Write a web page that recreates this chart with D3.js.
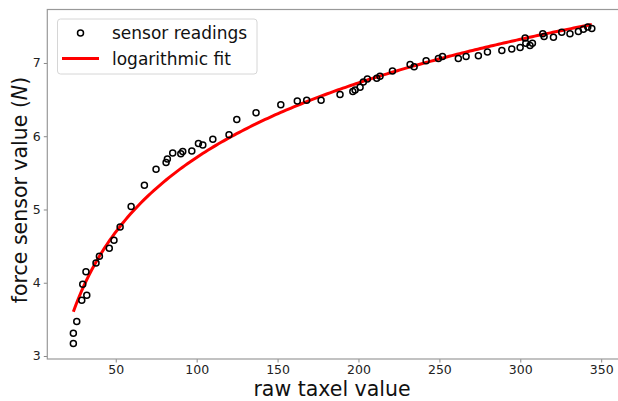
<!DOCTYPE html>
<html>
<head>
<meta charset="utf-8">
<script src="https://cdn.jsdelivr.net/npm/d3@7"></script>
<style>
  body { margin: 0; background: #fff; }
  svg { display: block; font-family: "DejaVu Sans", sans-serif; }
  .tick text { fill: #222; }
</style>
</head>
<body>
<svg width="618" height="401"></svg>
<script>
// sensor data
const taxel = [
  23.8, 23.8, 25.9, 29.0, 32.1, 29.6, 31.6, 37.8, 39.9, 46.0,
  48.9, 52.7, 59.5, 67.7, 74.9, 81.1, 81.9, 85.2, 90.2, 91.4,
  97.0, 101.1, 103.8, 110.0, 120.0, 124.8, 136.7, 152.0, 162.2, 168.0,
  176.9, 188.6, 196.5, 197.9, 201.0, 203.0, 205.5, 211.3, 213.3, 221.0,
  231.9, 234.4, 241.8, 249.4, 251.9, 261.7, 266.5, 274.1, 279.7, 288.6,
  294.7, 299.9, 303.0, 303.4, 306.0, 307.5, 313.9, 314.7, 320.5, 325.6,
  330.7, 335.9, 339.0, 341.7, 344.2
];
const force = [
  3.17, 3.31, 3.47, 3.76, 3.83, 3.98, 4.15, 4.27, 4.36, 4.47,
  4.58, 4.76, 5.04, 5.33, 5.55, 5.64, 5.69, 5.77, 5.76, 5.79,
  5.80, 5.90, 5.88, 5.96, 6.02, 6.23, 6.32, 6.43, 6.48, 6.49,
  6.49, 6.57, 6.61, 6.63, 6.67, 6.74, 6.78, 6.79, 6.82, 6.89,
  6.98, 6.95, 7.03, 7.06, 7.09, 7.06, 7.09, 7.10, 7.15, 7.17,
  7.19, 7.21, 7.34, 7.27, 7.24, 7.27, 7.40, 7.36, 7.35, 7.42,
  7.40, 7.43, 7.46, 7.49, 7.47
];
const xTicks = [50, 100, 150, 200, 250, 300, 350];
const yTicks = [3, 4, 5, 6, 7];
const seriesNames = ["sensor readings", "logarithmic fit"];

// least squares fit of force = a + b*ln(taxel)
let lx = taxel.map(Math.log);
let mx = d3.mean(lx), my = d3.mean(force);
let b = d3.sum(lx, (v, i) => (v - mx) * (force[i] - my)) / d3.sum(lx, v => (v - mx) * (v - mx));
let a = my - b * mx;
let fitX = d3.range(0, 201).map(i => d3.min(taxel) + i / 200 * (d3.max(taxel) - d3.min(taxel)));

let svg = d3.select("svg");
let mLeft = 47.3, mRight = 619, mTop = 9.5, mBottom = 359;

let x = d3.scaleLinear().domain([7.7, 361]).range([mLeft, mRight]);
let y = d3.scaleLinear().domain([2.959, 7.73]).range([mBottom, mTop]);

// axes
let xAxis = svg.append("g")
  .attr("transform", `translate(0, ${mBottom})`)
  .call(d3.axisBottom(x).tickValues(xTicks).tickFormat(d3.format("d")).tickSize(3.5).tickPadding(3));
let yAxis = svg.append("g")
  .attr("transform", `translate(${mLeft}, 0)`)
  .call(d3.axisLeft(y).tickValues(yTicks).tickFormat(d3.format("d")).tickSize(3.5).tickPadding(3));
[xAxis, yAxis].forEach(g => {
  g.select(".domain").remove();
  g.selectAll(".tick line").attr("stroke", "#888");
  g.selectAll(".tick text").attr("font-size", 12.5).attr("font-family", "DejaVu Sans");
});

// frame
svg.append("rect")
  .attr("x", mLeft)
  .attr("y", mTop)
  .attr("width", mRight - mLeft)
  .attr("height", mBottom - mTop)
  .attr("fill", "none")
  .attr("stroke", "#999")
  .attr("stroke-width", 1.2);

// fit line
svg.append("path")
  .datum(fitX)
  .attr("fill", "none")
  .attr("stroke", "#ff0000")
  .attr("stroke-width", 3)
  .attr("d", d3.line().x(d => x(d)).y(d => y(a + b * Math.log(d))));

// points
svg.append("g")
  .selectAll("circle")
  .data(taxel)
  .enter()
  .append("circle")
  .attr("cx", d => x(d))
  .attr("cy", (d, i) => y(force[i]))
  .attr("r", 3)
  .attr("fill", "none")
  .attr("stroke", "#000")
  .attr("stroke-width", 1.5);

// axis labels
svg.append("text")
  .attr("x", 332)
  .attr("y", 396)
  .attr("text-anchor", "middle")
  .attr("font-size", 20.5)
  .attr("fill", "#111")
  .text("raw taxel value");

let yl = svg.append("text")
  .attr("transform", "translate(27, 190) rotate(-90)")
  .attr("text-anchor", "middle")
  .attr("font-size", 20.5)
  .attr("fill", "#111");
yl.append("tspan").text("force sensor value (");
yl.append("tspan").attr("font-style", "italic").text("N");
yl.append("tspan").text(")");

// legend
let legend = svg.append("g");
legend.append("rect")
  .attr("x", 57.5)
  .attr("y", 19)
  .attr("width", 199.5)
  .attr("height", 55)
  .attr("rx", 3)
  .attr("fill", "#fff")
  .attr("fill-opacity", 0.8)
  .attr("stroke", "#d6d6d6");
legend.append("circle")
  .attr("cx", 80.5)
  .attr("cy", 33)
  .attr("r", 3)
  .attr("fill", "none")
  .attr("stroke", "#000")
  .attr("stroke-width", 1.5);
legend.append("line")
  .attr("x1", 62)
  .attr("x2", 99)
  .attr("y1", 58.5)
  .attr("y2", 58.5)
  .attr("stroke", "#ff0000")
  .attr("stroke-width", 3);
legend.selectAll("text.lab")
  .data(seriesNames)
  .enter()
  .append("text")
  .classed("lab", true)
  .attr("x", 112)
  .attr("y", (d, i) => 39 + i * 26)
  .attr("font-size", 17)
  .attr("fill", "#111")
  .text(d => d);
</script>
</body>
</html>
